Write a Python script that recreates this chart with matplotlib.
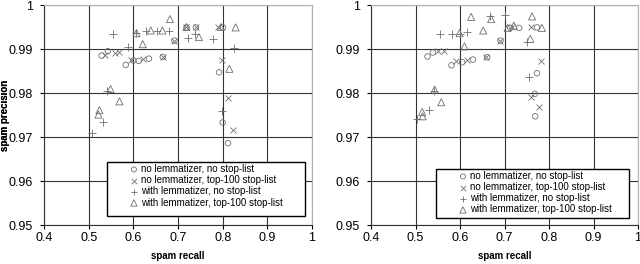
import matplotlib.pyplot as plt
from matplotlib.patches import Rectangle

plt.rcParams['font.family'] = ['Liberation Sans', 'DejaVu Sans']

labels = ['no lemmatizer, no stop-list', 'no lemmatizer, top-100 stop-list',
          'with lemmatizer, no stop-list', 'with lemmatizer, top-100 stop-list']

# left panel
l_circ_x = [0.529, 0.543, 0.583, 0.600, 0.612, 0.635, 0.666, 0.692, 0.719, 0.740, 0.801, 0.792, 0.800, 0.812]
l_circ_y = [0.9885, 0.9895, 0.9864, 0.9874, 0.9873, 0.9878, 0.9882, 0.9919, 0.9949, 0.9949, 0.9949, 0.9847, 0.9733, 0.9686]
l_cross_x = [0.536, 0.558, 0.569, 0.594, 0.622, 0.666, 0.692, 0.719, 0.740, 0.790, 0.799, 0.813, 0.824]
l_cross_y = [0.9886, 0.9890, 0.9894, 0.9874, 0.9877, 0.9882, 0.9919, 0.9949, 0.9949, 0.9949, 0.9874, 0.9789, 0.9715]
l_plus_x = [0.507, 0.531, 0.540, 0.555, 0.587, 0.606, 0.628, 0.652, 0.680, 0.723, 0.738, 0.779, 0.798, 0.826]
l_plus_y = [0.9709, 0.9733, 0.9804, 0.9933, 0.9904, 0.9936, 0.9942, 0.9942, 0.9942, 0.9925, 0.9933, 0.9923, 0.9758, 0.9902]
l_tri_x = [0.524, 0.522, 0.549, 0.569, 0.607, 0.621, 0.639, 0.665, 0.682, 0.719, 0.747, 0.796, 0.815, 0.829]
l_tri_y = [0.9761, 0.9751, 0.9809, 0.9781, 0.9936, 0.9911, 0.9942, 0.9942, 0.9968, 0.9950, 0.9927, 0.9950, 0.9855, 0.9949]

# right panel
r_circ_x = [0.527, 0.539, 0.581, 0.605, 0.629, 0.661, 0.691, 0.713, 0.733, 0.773, 0.773, 0.768, 0.769]
r_circ_y = [0.9883, 0.9892, 0.9863, 0.9870, 0.9876, 0.9881, 0.9919, 0.9948, 0.9948, 0.9949, 0.9845, 0.9798, 0.9747]
r_cross_x = [0.550, 0.563, 0.592, 0.616, 0.659, 0.689, 0.717, 0.760, 0.782, 0.760, 0.777]
r_cross_y = [0.9895, 0.9896, 0.9872, 0.9876, 0.9881, 0.9919, 0.9949, 0.9949, 0.9873, 0.9792, 0.9768]
r_plus_x = [0.503, 0.530, 0.541, 0.554, 0.581, 0.599, 0.616, 0.667, 0.702, 0.751, 0.756]
r_plus_y = [0.9742, 0.9762, 0.9804, 0.9933, 0.9933, 0.9934, 0.9939, 0.9974, 0.9977, 0.9917, 0.9836]
r_tri_x = [0.515, 0.516, 0.543, 0.558, 0.599, 0.610, 0.625, 0.652, 0.670, 0.707, 0.721, 0.762, 0.758, 0.784]
r_tri_y = [0.9757, 0.9747, 0.9808, 0.9779, 0.9936, 0.9906, 0.9973, 0.9942, 0.9968, 0.9948, 0.9953, 0.9974, 0.9923, 0.9948]

xticks = [0.4, 0.5, 0.6, 0.7, 0.8, 0.9, 1.0]
xticklabels = ['0.4', '0.5', '0.6', '0.7', '0.8', '0.9', '1']
yticks = [0.95, 0.96, 0.97, 0.98, 0.99, 1.0]
yticklabels = ['0.95', '0.96', '0.97', '0.98', '0.99', '1']

W, H = 640, 264
fig = plt.figure(figsize=(6.4, 2.64), dpi=100)
axl = fig.add_axes([44/W, 1 - 225/H, 268/W, 220/H])
axr = fig.add_axes([371/W, 1 - 225/H, 267/W, 220/H])

gray = '#6e6e6e'

def panel(ax, x0, aw, series, box):
    markers = ['o', 'x', '+', '^']
    sizes = [16, 18, 28, 26]
    for (xs, ys), m, sz, lab in zip(series, markers, sizes, labels):
        ax.scatter(xs, ys, marker=m, s=sz,
                   facecolors='none' if m in ('o', '^') else gray,
                   edgecolors=gray, linewidths=0.6, label=lab, zorder=3)
    ax.set_xlim(0.4, 1.0)
    ax.set_ylim(0.95, 1.0)
    ax.set_xticks(xticks)
    ax.set_xticklabels(xticklabels)
    ax.set_yticks(yticks)
    ax.set_yticklabels(yticklabels)
    ax.grid(True, color='#333333', linewidth=0.8)
    ax.set_axisbelow(True)
    for s in ('top', 'right'):
        ax.spines[s].set_color('#b0b0b0')
    for s in ('left', 'bottom'):
        ax.spines[s].set_color('#333333')
    ax.tick_params(labelsize=9, length=3, width=0.8, direction='out')
    ax.tick_params(axis='x', pad=2)
    ax.tick_params(axis='y', pad=5)
    ax.set_xlabel('spam recall', fontsize=7, fontweight='bold', va='center')
    ax.set_ylabel('spam precision', fontsize=7, fontweight='bold', va='center')
    ax.xaxis.set_label_coords(0.5, -(256 - 225) / 220)
    ax.yaxis.set_label_coords(-(x0 - 5) / aw, 0.5)
    # legend frame drawn separately (Excel-style wide padding)
    bx0, by0, bx1, by1 = box
    rect = Rectangle((bx0 / W, 1 - by1 / H), (bx1 - bx0) / W, (by1 - by0) / H,
                     transform=fig.transFigure, facecolor='white',
                     edgecolor='black', linewidth=1.0, zorder=4, clip_on=False)
    ax.add_patch(rect)
    leg = ax.legend(loc='upper left',
                    bbox_to_anchor=((bx0 + 24 - x0) / aw, (225 - by0 - 2) / 220),
                    fontsize=7, frameon=False, handlelength=0.6,
                    handletextpad=0.4, borderpad=0.0, labelspacing=0.12,
                    markerscale=0.9, borderaxespad=0)
    leg.set_zorder(5)

panel(axl, 44, 268, [(l_circ_x, l_circ_y), (l_cross_x, l_cross_y), (l_plus_x, l_plus_y), (l_tri_x, l_tri_y)],
      (107, 162, 305, 216))
panel(axr, 371, 267, [(r_circ_x, r_circ_y), (r_cross_x, r_cross_y), (r_plus_x, r_plus_y), (r_tri_x, r_tri_y)],
      (436, 169, 629, 218))

fig.savefig('out.png', dpi=100)
